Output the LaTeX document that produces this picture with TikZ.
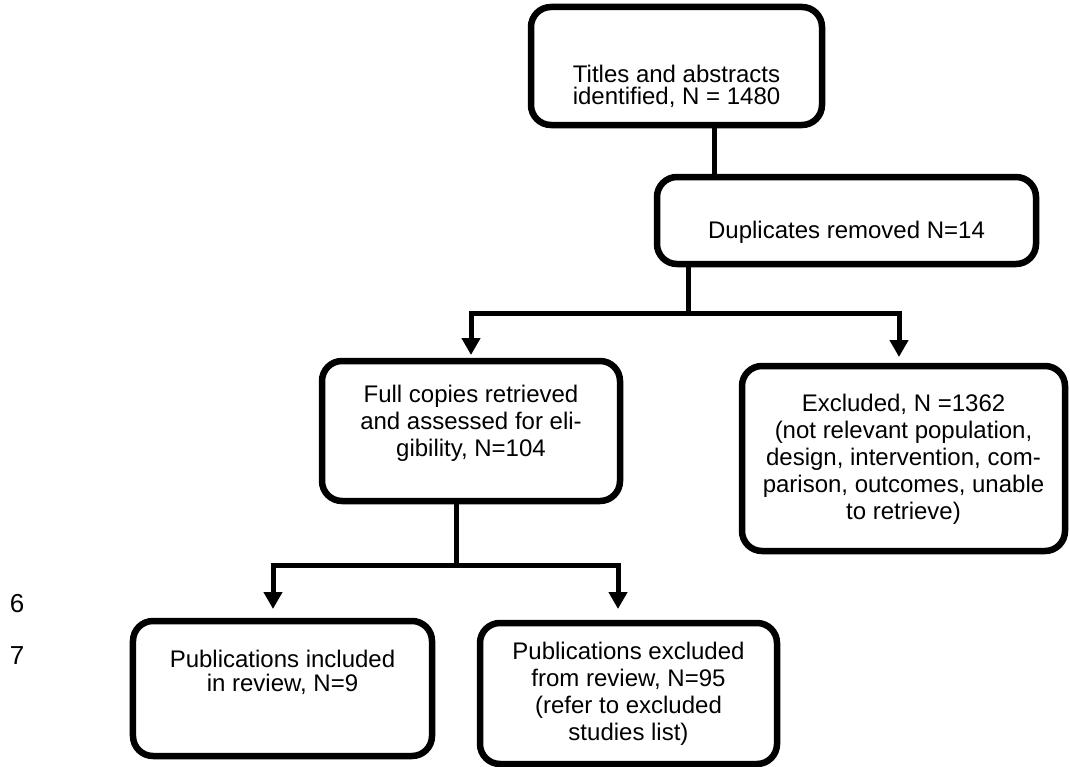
\documentclass[tikz,border=0pt]{standalone}
\usepackage{fontspec}
\setmainfont{Liberation Sans}
\usetikzlibrary{arrows.meta}

\begin{document}
\begin{tikzpicture}[x=1bp,y=-1bp,>={Triangle[width=18bp,length=17bp]},line join=miter,
  box/.style={draw,rounded corners=20bp,line width=6.5bp,outer sep=0pt,inner sep=0pt,
    align=center,text depth=0bp,font=\fontsize{24bp}{27bp}\selectfont},
  link/.style={line width=5bp},
  lineno/.style={inner sep=0pt,font=\fontsize{26bp}{30bp}\selectfont},
]
\useasboundingbox (0,0) rectangle (1070,767);
%%
  % Node: Titles
  \node[box,minimum width=291bp,minimum height=118bp,text height=76bp,
    font=\fontsize{24bp}{22bp}\selectfont] (Titles) at (676.5,66)
    {Titles and abstracts\\identified, N = 1480};
  % Node: Duplicates
  \node[box,minimum width=379bp,minimum height=87bp,text height=35bp] (Duplicates) at (846.5,220.5)
    {Duplicates removed N=14};
  % Node: Full
  \node[box,minimum width=298bp,minimum height=140bp,text height=50bp] (Full) at (471,431)
    {Full copies retrieved\\and assessed for eli-\\gibility, N=104};
  % Node: Excluded
  \node[box,minimum width=323bp,minimum height=185bp,text height=121bp] (Excluded) at (903.5,458.5)
    {Excluded, N =1362\\(not relevant population,\\design, intervention, com-\\parison, outcomes, unable\\to retrieve)};
  % Node: Included
  \node[box,minimum width=299bp,minimum height=135bp,text height=5bp,
    font=\fontsize{24bp}{24bp}\selectfont] (Included) at (282.5,688.5)
    {Publications included\\in review, N=9};
  % Node: Dropped
  \node[box,minimum width=297bp,minimum height=141bp,text height=93bp] (Dropped) at (628.5,693.5)
    {Publications excluded\\from review, N=95\\(refer to excluded\\studies list)};
  % Node: line numbers
  \node[lineno] (ln6) at (17,604) {6};
  \node[lineno] (ln7) at (17,655.5) {7};
%%
  % Edge: Titles -> Duplicates
  \coordinate (t1) at ([xshift=37.5bp]Titles.south);
  \draw[link] (t1) -- (t1 |- Duplicates.north);
  % Edge: Duplicates -> Full, Excluded
  \coordinate (fork1) at (688,313);
  \draw[link] (Duplicates.south -| fork1) -- (fork1);
  \draw[link,->,shorten >=6bp] (fork1) -| (Full.north);
  \draw[link,->,shorten >=9bp] (fork1) -| ([xshift=-4.5bp]Excluded.north);
  % Edge: Full -> Included, Dropped
  \coordinate (fork2) at (456,565);
  \draw[link] (Full.south -| fork2) -- (fork2);
  \draw[link,->,shorten >=12bp] (fork2) -| ([xshift=-9.5bp]Included.north);
  \draw[link,->,shorten >=14bp] (fork2) -| ([xshift=-10.5bp]Dropped.north);
%
\end{tikzpicture}
\end{document}
